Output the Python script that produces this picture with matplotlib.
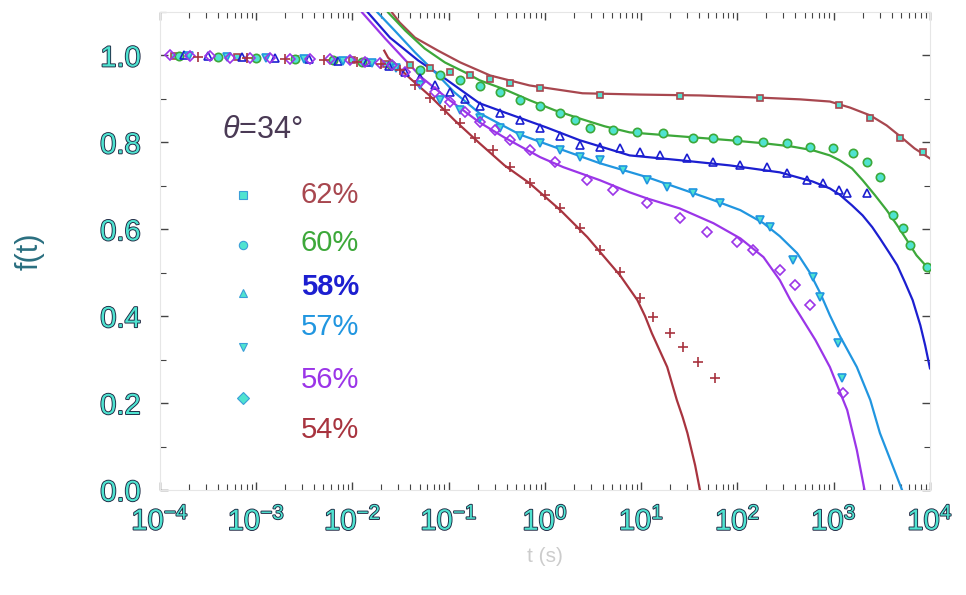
import numpy as np
import matplotlib.pyplot as plt
import matplotlib.patheffects as pe
from matplotlib.ticker import LogLocator, MultipleLocator, NullFormatter

plt.rcParams['font.family'] = ['Liberation Sans', 'DejaVu Sans']
plt.rcParams['mathtext.fontset'] = 'custom'
plt.rcParams['mathtext.rm'] = 'Liberation Sans'
plt.rcParams['mathtext.it'] = 'Liberation Sans:italic'

# -----------------------------
# DATA (log10 t, value)
# -----------------------------
# fitted curves
fit62_lt = [-1.59, -1.51, -1.35, -1.11, -0.88, -0.57, -0.16, 0.39, 0.99, 1.61, 2.23, 2.65, 2.96, 3.17, 3.38, 3.55, 3.69, 3.84, 4.00]
fit62_y = [1.099, 1.076, 1.041, 1.011, 0.984, 0.954, 0.931, 0.913, 0.910, 0.908, 0.903, 0.899, 0.894, 0.880, 0.862, 0.839, 0.814, 0.786, 0.763]

fit60_lt = [-1.63, -1.45, -1.25, -1.04, -0.83, -0.68, -0.42, -0.16, 0.10, 0.36, 0.62, 0.88, 1.40, 1.92, 2.27, 2.55, 2.78, 2.96, 3.06, 3.19, 3.30, 3.43, 3.55, 3.66, 3.76, 3.86, 3.97, 4.00]
fit60_y = [1.099, 1.057, 1.016, 0.984, 0.961, 0.943, 0.922, 0.897, 0.874, 0.855, 0.837, 0.823, 0.814, 0.805, 0.798, 0.791, 0.782, 0.770, 0.759, 0.740, 0.713, 0.678, 0.644, 0.609, 0.575, 0.540, 0.513, 0.501]

fit58_lt = [-1.84, -1.61, -1.32, -1.04, -0.68, -0.42, 0.02, 0.36, 0.88, 1.40, 1.92, 2.44, 2.78, 2.96, 3.06, 3.19, 3.30, 3.40, 3.48, 3.58, 3.66, 3.74, 3.82, 3.90, 3.95, 4.00]
fit58_y = [1.099, 1.041, 0.989, 0.947, 0.890, 0.869, 0.834, 0.805, 0.770, 0.759, 0.747, 0.731, 0.710, 0.694, 0.680, 0.655, 0.632, 0.605, 0.579, 0.545, 0.517, 0.478, 0.437, 0.379, 0.333, 0.280]

fit57_lt = [-1.74, -1.56, -1.35, -1.14, -0.94, -0.68, -0.26, 0.19, 0.57, 1.06, 1.40, 1.75, 2.03, 2.27, 2.44, 2.62, 2.75, 2.86, 2.96, 3.06, 3.24, 3.38, 3.48, 3.61, 3.71]
fit57_y = [1.099, 1.057, 1.007, 0.961, 0.915, 0.867, 0.818, 0.782, 0.752, 0.720, 0.694, 0.667, 0.644, 0.614, 0.584, 0.545, 0.501, 0.453, 0.402, 0.356, 0.283, 0.207, 0.131, 0.057, 0.0]

fit56_lt = [-1.90, -1.66, -1.45, -1.28, -0.99, -0.68, -0.42, -0.05, 0.19, 0.57, 0.88, 1.06, 1.40, 1.75, 2.03, 2.27, 2.44, 2.55, 2.65, 2.81, 2.96, 3.14, 3.24, 3.32]
fit56_y = [1.099, 1.039, 0.989, 0.949, 0.897, 0.846, 0.811, 0.766, 0.743, 0.713, 0.685, 0.671, 0.648, 0.614, 0.579, 0.536, 0.483, 0.437, 0.402, 0.345, 0.283, 0.184, 0.092, 0.0]

fit54_lt = [-1.67, -1.63, -1.40, -1.19, -0.94, -0.68, -0.42, -0.16, 0.16, 0.44, 0.78, 0.96, 1.04, 1.11, 1.19, 1.27, 1.32, 1.37, 1.43, 1.48, 1.52, 1.56, 1.61]
fit54_y = [1.011, 0.995, 0.947, 0.906, 0.851, 0.798, 0.747, 0.706, 0.644, 0.582, 0.494, 0.437, 0.400, 0.361, 0.322, 0.283, 0.245, 0.207, 0.168, 0.131, 0.094, 0.057, 0.0]

# measured points
d62_lt = [-3.85, -3.20, -2.60, -2.00, -1.65, -1.40, -1.19, -0.99, -0.78, -0.57, -0.36, -0.05, 0.57, 1.40, 2.23, 3.06, 3.38, 3.69, 3.93]
d62_y = [0.998, 0.996, 0.993, 0.989, 0.980, 0.979, 0.972, 0.963, 0.954, 0.945, 0.936, 0.924, 0.910, 0.906, 0.901, 0.885, 0.857, 0.809, 0.777]

d60_lt = [-3.80, -3.40, -3.00, -2.60, -2.20, -1.90, -1.60, -1.30, -1.09, -0.88, -0.68, -0.47, -0.26, -0.05, 0.16, 0.31, 0.47, 0.71, 0.96, 1.23, 1.54, 1.75, 2.00, 2.27, 2.51, 2.75, 2.99, 3.20, 3.35, 3.48, 3.62, 3.72, 3.79, 3.97]
d60_y = [0.999, 0.997, 0.995, 0.993, 0.990, 0.986, 0.978, 0.966, 0.954, 0.943, 0.929, 0.915, 0.897, 0.883, 0.867, 0.851, 0.834, 0.828, 0.823, 0.821, 0.809, 0.811, 0.805, 0.800, 0.798, 0.789, 0.786, 0.775, 0.754, 0.720, 0.632, 0.602, 0.563, 0.513]

d58_lt = [-3.75, -3.50, -3.15, -2.80, -2.45, -2.15, -1.85, -1.62, -1.45, -1.30, -1.14, -0.99, -0.83, -0.68, -0.47, -0.26, -0.05, 0.16, 0.36, 0.57, 0.78, 0.99, 1.19, 1.48, 1.75, 2.03, 2.31, 2.51, 2.72, 2.89, 3.06, 3.14, 3.35]
d58_y = [1.000, 0.998, 0.996, 0.994, 0.991, 0.988, 0.984, 0.976, 0.961, 0.947, 0.931, 0.915, 0.899, 0.883, 0.867, 0.851, 0.832, 0.814, 0.793, 0.789, 0.786, 0.777, 0.770, 0.763, 0.754, 0.747, 0.743, 0.729, 0.713, 0.706, 0.690, 0.683, 0.683]

d57_lt = [-3.70, -3.30, -2.90, -2.50, -2.10, -1.80, -1.55, -1.30, -1.09, -0.88, -0.68, -0.47, -0.26, -0.05, 0.16, 0.36, 0.57, 0.81, 1.06, 1.27, 1.54, 1.82, 2.23, 2.34, 2.58, 2.78, 2.86, 3.04, 3.09]
d57_y = [0.998, 0.996, 0.994, 0.992, 0.988, 0.983, 0.972, 0.931, 0.897, 0.874, 0.855, 0.832, 0.814, 0.798, 0.782, 0.766, 0.759, 0.736, 0.713, 0.697, 0.683, 0.660, 0.621, 0.605, 0.529, 0.490, 0.444, 0.338, 0.257]

d56_lt = [-3.90, -3.69, -3.48, -3.27, -3.06, -2.86, -2.65, -2.44, -2.23, -2.03, -1.87, -1.71, -1.59, -1.45, -1.30, -1.14, -0.99, -0.83, -0.68, -0.52, -0.36, -0.16, 0.10, 0.44, 0.71, 1.06, 1.40, 1.68, 2.00, 2.16, 2.44, 2.60, 2.75, 3.10]
d56_y = [1.000, 0.998, 0.998, 0.995, 0.995, 0.995, 0.993, 0.993, 0.991, 0.989, 0.986, 0.982, 0.977, 0.961, 0.938, 0.915, 0.892, 0.869, 0.848, 0.828, 0.805, 0.782, 0.754, 0.713, 0.690, 0.660, 0.625, 0.593, 0.570, 0.552, 0.506, 0.471, 0.425, 0.223]

d54_lt = [-3.60, -3.10, -2.70, -2.30, -1.95, -1.70, -1.51, -1.35, -1.19, -1.04, -0.88, -0.73, -0.54, -0.36, -0.16, 0.00, 0.16, 0.36, 0.57, 0.78, 0.99, 1.12, 1.30, 1.43, 1.59, 1.77]
d54_y = [0.997, 0.995, 0.992, 0.990, 0.986, 0.980, 0.966, 0.931, 0.903, 0.874, 0.844, 0.811, 0.782, 0.743, 0.706, 0.678, 0.648, 0.602, 0.552, 0.501, 0.441, 0.398, 0.361, 0.329, 0.294, 0.257]

labels = ['62%', '60%', '58%', '57%', '56%', '54%']
colors = ['#a8474f', '#3da83a', '#1c1fd0', '#2196e0', '#9b35e8', '#a8343f']
markers = ['s', 'o', '^', 'v', 'D', '+']
cyan = '#4fe3d0'

fits = [(fit62_lt, fit62_y), (fit60_lt, fit60_y), (fit58_lt, fit58_y),
        (fit57_lt, fit57_y), (fit56_lt, fit56_y), (fit54_lt, fit54_y)]
points = [(d62_lt, d62_y), (d60_lt, d60_y), (d58_lt, d58_y),
          (d57_lt, d57_y), (d56_lt, d56_y), (d54_lt, d54_y)]

# -----------------------------
# PLOT
# -----------------------------
fig = plt.figure(figsize=(9.66, 5.95), dpi=100)
ax = fig.add_axes([0.1656, 0.1765, 0.7971, 0.8033])

for (lt, y), col in zip(fits, colors):
    ax.plot(10 ** np.array(lt), y, color=col, lw=1.6, zorder=3)

faces = [cyan, cyan, 'none', cyan, 'none', 'none']
sizes = [4, 6, 6, 6, 5, 7]
for (lt, y), col, m, fc, ms in zip(points, colors, markers, faces, sizes):
    ax.plot(10 ** np.array(lt), y, ls='none', marker=m, ms=ms, mfc=fc,
            mec=col, mew=1.2, zorder=4)

ax.set_xscale('log')
ax.set_xlim(1e-4, 1e4)
ax.set_ylim(0, 1.1)

ax.xaxis.set_major_locator(LogLocator(base=10, numticks=20))
ax.xaxis.set_minor_locator(LogLocator(base=10, subs=np.arange(2, 10), numticks=20))
ax.xaxis.set_minor_formatter(NullFormatter())
ax.set_yticks([0.0, 0.2, 0.4, 0.6, 0.8, 1.0])
ax.yaxis.set_minor_locator(MultipleLocator(0.1))

tick_fx = [pe.withStroke(linewidth=1.3, foreground='#1d2540')]
ax.tick_params(which='both', direction='in', top=True, right=True, color='#444444')
ax.tick_params(which='major', length=6, width=1.0)
ax.tick_params(which='minor', length=4, width=0.8)
ax.tick_params(axis='y', pad=14, labelsize=21, labelcolor=cyan)
ax.tick_params(axis='x', pad=12, labelsize=21, labelcolor=cyan)
for lab in ax.get_xticklabels() + ax.get_yticklabels():
    lab.set_path_effects(tick_fx)

for sp in ax.spines.values():
    sp.set_color('#e6e6e6')
    sp.set_linewidth(0.8)

ax.set_ylabel('f(t)', fontsize=22, color='#2a6f80', labelpad=40)
ax.set_xlabel('t (s)', fontsize=15, color='#cccccc', labelpad=8)

# -----------------------------
# LEGEND (drawn by hand, as in the figure)
# -----------------------------
ax.text(0.0805, 0.753, r'$\theta$=34°', transform=ax.transAxes, fontsize=22,
        color='#4a3a55', va='center', ha='left')

label_y = [0.617, 0.517, 0.425, 0.341, 0.230, 0.126]
marker_y = [0.617, 0.513, 0.412, 0.299, 0.192, None]
weights = ['normal', 'normal', 'bold', 'normal', 'normal', 'normal']
for lab, col, m, ly, my, w in zip(labels, colors, markers, label_y, marker_y, weights):
    ax.text(0.183, ly, lab, transform=ax.transAxes, fontsize=21, color=col,
            va='center', ha='left', fontweight=w)
    if my is not None:
        ax.plot([0.108], [my], transform=ax.transAxes, marker=m, ms=6,
                mfc=cyan, mec='#3a9fd8', mew=0.8, ls='none', clip_on=False)

fig.savefig('out.png', dpi=100)
